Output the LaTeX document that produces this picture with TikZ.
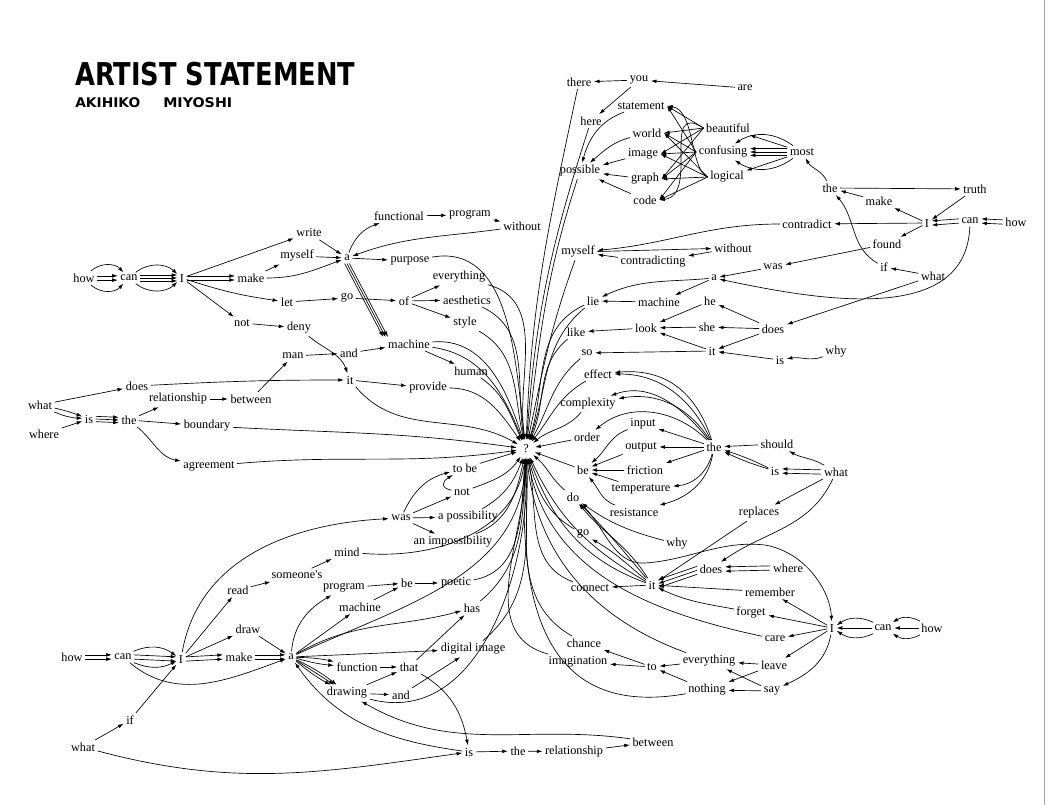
\documentclass[tikz,border=0pt]{standalone}
\usepackage{fontspec}
\usepackage{graphicx}
\setmainfont{Liberation Serif}
\newfontfamily\titlefont{DejaVu Sans}
\usetikzlibrary{arrows.meta}
\newcommand\wordnode[4]{\node[w] (#1) at (#2,-#3) {#4};}
\begin{document}
\begin{tikzpicture}[x=0.75pt,y=0.75pt,
  w/.style={inner sep=1.8pt, font=\fontsize{9.2}{10}\selectfont},
  ar/.style={line width=0.5pt, -{Latex[length=4.2pt,width=2.8pt]}},
]
\fill[white] (0,0) rectangle (1048,-805);
\useasboundingbox (0,0) rectangle (1048,-805);
\draw[black!35, line width=0.6pt] (1044,0) -- (1044,-805);

% titles
\node[anchor=south west, inner sep=0] (title) at (75,-86.7) {\resizebox{210pt}{17.5pt}{\titlefont\bfseries ARTIST STATEMENT}};
\node[anchor=south west, inner sep=0] (akihiko) at (75,-107.9) {\resizebox{48.75pt}{7.4pt}{\titlefont\bfseries AKIHIKO}};
\node[anchor=south west, inner sep=0] (miyoshi) at (163,-107.9) {\resizebox{51.75pt}{7.4pt}{\titlefont\bfseries MIYOSHI}};

% ---------- cluster A (top left)
\wordnode{howA}{84}{278}{how}
\wordnode{canA}{129}{278}{can}
\wordnode{IA}{182}{278}{I}
\wordnode{writeA}{309}{233}{write}
\wordnode{myselfA}{297}{256}{myself}
\wordnode{aA}{347}{258}{a}
\wordnode{makeA}{251}{278}{make}
\wordnode{letA}{287}{302}{let}
\wordnode{goA}{347}{298}{go}
\wordnode{notA}{242}{323}{not}
\wordnode{denyA}{299}{328}{deny}
\wordnode{manA}{293}{356}{man}
\wordnode{andA}{349}{353}{and}
\wordnode{itA}{350}{380}{it}
\wordnode{doesA}{137}{386}{does}
\wordnode{whatA}{40}{405}{what}
\wordnode{whereA}{44}{434}{where}
\wordnode{isA}{89}{419}{is}
\wordnode{theA}{129}{420}{the}
\wordnode{relA}{178}{399}{relationship}
\wordnode{betweenA}{251}{399}{between}
\wordnode{boundaryA}{207}{426}{boundary}
\wordnode{agreeA}{209}{466}{agreement}
\wordnode{functional}{399}{216}{functional}
\wordnode{programA}{470}{215}{program}
\wordnode{withoutA}{522}{226}{without}
\wordnode{purpose}{410}{261}{purpose}
\wordnode{everythingA}{459}{277}{everything}
\wordnode{ofA}{404}{301}{of}
\wordnode{aesthetics}{467}{300}{aesthetics}
\wordnode{style}{465}{323}{style}
\wordnode{machineA}{409}{344}{machine}
\wordnode{human}{471}{371}{human}
\wordnode{provide}{428}{388}{provide}
\node[w, circle, inner sep=2.2pt] (q) at (526,-449) {?};

% ---------- cluster B (top right)
\wordnode{there}{579}{82}{there}
\wordnode{you}{639}{80}{you}
\wordnode{are}{745}{88}{are}
\wordnode{here}{591}{121}{here}
\wordnode{statement}{641}{106}{statement}
\wordnode{world}{647}{133}{world}
\wordnode{image}{643}{154}{image}
\wordnode{possible}{580}{171}{possible}
\wordnode{graph}{645}{179}{graph}
\wordnode{code}{645}{200}{code}
\wordnode{beautiful}{728}{128}{beautiful}
\wordnode{confusing}{723}{152}{confusing}
\wordnode{logical}{727}{177}{logical}
\wordnode{most}{802}{152}{most}
\wordnode{theB}{830}{188}{the}
\wordnode{truth}{975}{189}{truth}
\wordnode{makeB}{879}{201}{make}
\wordnode{IB}{927}{223}{I}
\wordnode{canB}{970}{221}{can}
\wordnode{howB}{1016}{222}{how}
\wordnode{contradict}{807}{224}{contradict}
\wordnode{found}{887}{244}{found}
\wordnode{myselfB}{578}{252}{myself}
\wordnode{withoutB}{733}{248}{without}
\wordnode{contradicting}{653}{262}{contradicting}
\wordnode{wasB}{773}{267}{was}
\wordnode{ifB}{884}{267}{if}
\wordnode{whatB}{933}{276}{what}
\wordnode{aB}{714}{278}{a}
\wordnode{lie}{593}{301}{lie}
\wordnode{machineB}{659}{302}{machine}
\wordnode{heB}{710}{301}{he}
\wordnode{doesB}{773}{329}{does}
\wordnode{like}{576}{332}{like}
\wordnode{look}{646}{328}{look}
\wordnode{she}{707}{327}{she}
\wordnode{soB}{587}{353}{so}
\wordnode{itB}{712}{351}{it}
\wordnode{isB}{780}{360}{is}
\wordnode{whyB}{836}{352}{why}

% ---------- cluster C (middle right)
\wordnode{effect}{598}{374}{effect}
\wordnode{complexity}{588}{404}{complexity}
\wordnode{input}{643}{424}{input}
\wordnode{order}{587}{437}{order}
\wordnode{output}{641}{447}{output}
\wordnode{theC}{714}{447}{the}
\wordnode{should}{777}{444}{should}
\wordnode{beC}{583}{470}{be}
\wordnode{friction}{645}{470}{friction}
\wordnode{isC}{775}{471}{is}
\wordnode{whatC}{836}{472}{what}
\wordnode{temperature}{641}{489}{temperature}
\wordnode{doC}{573}{497}{do}
\wordnode{resistance}{634}{512}{resistance}
\wordnode{replaces}{759}{513}{replaces}
\wordnode{goC}{583}{534}{go}
\wordnode{whyC}{677}{544}{why}

% ---------- cluster D (bottom right)
\wordnode{doesD}{711}{569}{does}
\wordnode{where}{788}{568}{where}
\wordnode{connect}{590}{588}{connect}
\wordnode{itD}{652}{585}{it}
\wordnode{remember}{770}{592}{remember}
\wordnode{forget}{751}{612}{forget}
\wordnode{ID}{832}{628}{I}
\wordnode{canD}{883}{628}{can}
\wordnode{howD}{932}{628}{how}
\wordnode{care}{775}{639}{care}
\wordnode{chance}{584}{643}{chance}
\wordnode{imagination}{578}{662}{imagination}
\wordnode{toD}{652}{667}{to}
\wordnode{everythingD}{709}{661}{everything}
\wordnode{leave}{774}{665}{leave}
\wordnode{nothing}{707}{690}{nothing}
\wordnode{say}{772}{691}{say}

% ---------- cluster E (bottom left)
\wordnode{tobe}{465}{468}{to be}
\wordnode{notE}{462}{492}{not}
\wordnode{wasE}{401}{518}{was}
\wordnode{apos}{468}{517}{a possibility}
\wordnode{aimp}{453}{542}{an impossibility}
\wordnode{mind}{347}{552}{mind}
\wordnode{someones}{297}{575}{someone\textquotesingle s}
\wordnode{read}{238}{590}{read}
\wordnode{programE}{344}{588}{program}
\wordnode{beE}{407}{583}{be}
\wordnode{poetic}{456}{583}{poetic}
\wordnode{machineE}{360}{607}{machine}
\wordnode{has}{472}{608}{has}
\wordnode{draw}{248}{629}{draw}
\wordnode{howE}{72}{657}{how}
\wordnode{canE}{123}{657}{can}
\wordnode{IE}{181}{659}{I}
\wordnode{makeE}{239}{657}{make}
\wordnode{aE}{291}{657}{a}
\wordnode{digital}{473}{649}{digital image}
\wordnode{function}{357}{667}{function}
\wordnode{that}{409}{667}{that}
\wordnode{drawing}{347}{693}{drawing}
\wordnode{andE}{401}{695}{and}
\wordnode{ifE}{130}{720}{if}
\wordnode{whatE}{83}{747}{what}
\wordnode{isE}{469}{752}{is}
\wordnode{theE}{518}{751}{the}
\wordnode{relE}{574}{752}{relationship}
\wordnode{betweenE}{653}{742}{between}

% ================= edges A
\draw[ar] (howA) to[bend left=45] (canA);
\draw[ar] ([yshift=1.6pt]howA.east) -- ([yshift=1.6pt]canA.west);
\draw[ar] ([yshift=-1.6pt]howA.east) -- ([yshift=-1.6pt]canA.west);
\draw[ar] (howA) to[bend right=45] (canA);
\draw[ar] (canA) to[bend left=40] (IA);
\draw[ar] ([yshift=2.2pt]canA.east) -- ([yshift=2.2pt]IA.west);
\draw[ar] (canA.east) -- (IA.west);
\draw[ar] ([yshift=-2.2pt]canA.east) -- ([yshift=-2.2pt]IA.west);
\draw[ar] (canA) to[bend right=40] (IA);
\draw[ar] (IA) -- (writeA);
\draw[ar] ([yshift=1.5pt]IA.east) -- ([yshift=1.5pt]makeA.west);
\draw[ar] ([yshift=-1.5pt]IA.east) -- ([yshift=-1.5pt]makeA.west);
\draw[ar] (IA) to[bend right=5] (letA);
\draw[ar] (IA) -- (notA);
\draw[ar] (writeA) -- (aA);
\draw[ar] (myselfA) -- (aA);
\draw[ar] (makeA) -- (myselfA);
\draw[ar] (makeA) to[out=0,in=200] (aA);
\draw[ar] (aA) to[out=70,in=200] (functional);
\draw[ar] (functional) -- (programA);
\draw[ar] (programA) -- (withoutA);
\draw[ar] (withoutA) to[out=188,in=20] (aA);
\draw[ar] (aA) -- (purpose);
\draw[ar] ([xshift=-1.8pt]aA.south) -- ([xshift=-1.8pt]machineA.north west);
\draw[ar] (aA.south) -- (machineA.north west);
\draw[ar] ([xshift=1.8pt]aA.south) -- ([xshift=1.8pt]machineA.north west);
\draw[ar] (letA) -- (goA);
\draw[ar] (goA) -- (ofA);
\draw[ar] (ofA) -- (everythingA);
\draw[ar] (ofA) -- (aesthetics);
\draw[ar] (ofA) -- (style);
\draw[ar] (notA) -- (denyA);
\draw[ar] (denyA) to[out=-40,in=110] (itA);
\draw[ar] (betweenA) -- (manA);
\draw[ar] (manA) -- (andA);
\draw[ar] (andA) -- (machineA);
\draw[ar] (machineA) -- (human);
\draw[ar] (doesA) to[out=3,in=180] (itA);
\draw[ar] (itA) -- (provide);
\draw[ar] (whatA) -- (doesA);
\draw[ar] (whatA) to[bend left=4] (isA);
\draw[ar] (whatA) to[bend right=10] (isA);
\draw[ar] (whereA) -- (isA);
\draw[ar] ([yshift=2pt]isA.east) -- ([yshift=2pt]theA.west);
\draw[ar] (isA.east) -- (theA.west);
\draw[ar] ([yshift=-2pt]isA.east) -- ([yshift=-2pt]theA.west);
\draw[ar] (theA) -- (relA);
\draw[ar] (theA) -- (boundaryA);
\draw[ar] (theA) to[out=-40,in=170] (agreeA);
\draw[ar] (relA) -- (betweenA);
% A to ?
\draw[ar] (purpose) to[out=10,in=97] (q);
\draw[ar] (everythingA) to[out=-15,in=98] (q);
\draw[ar] (aesthetics) to[out=-25,in=100] (q);
\draw[ar] (style) to[out=-30,in=103] (q);
\draw[ar] (machineA) to[out=5,in=108] (q);
\draw[ar] (machineA) to[out=-8,in=112] (q);
\draw[ar] (human) to[out=-35,in=115] (q);
\draw[ar] (provide) to[out=0,in=125] (q);
\draw[ar] (itA) to[out=-50,in=150] (q);
\draw[ar] (boundaryA) to[out=-3,in=172] (q);
\draw[ar] (agreeA) to[out=5,in=188] (q);

% ================= edges B
\draw[ar] (you) -- (there);
\draw[ar] (are) -- (you);
\draw[ar] (you) -- (here);
\draw[ar] (statement) to[out=200,in=75] (possible);
\draw[ar] (world) to[out=195,in=40] (possible);
\draw[ar] (image) -- (possible);
\draw[ar] (graph) -- (possible);
\draw[ar] (code) -- (possible);
\foreach \s in {beautiful,confusing,logical}
  \foreach \t in {world,image,graph}
    \draw[ar] (\s.west) -- (\t.east);
\draw[ar] (beautiful.west) -- (statement.east);
\draw[ar] (confusing.west) -- (statement.east);
\draw[ar] (logical.west) .. controls (690,-170) and (695,-110) .. (statement.east);
\draw[ar] (beautiful.west) .. controls (660,-100) and (700,-195) .. (code.east);
\draw[ar] (confusing.west) -- (code.east);
\draw[ar] (logical.west) -- (code.east);
\draw[ar] (most) to[bend right=35] (confusing);
\draw[ar] ([yshift=2.5pt]most.west) -- ([yshift=2.5pt]confusing.east);
\draw[ar] (most.west) -- (confusing.east);
\draw[ar] ([yshift=-2.5pt]most.west) -- ([yshift=-2.5pt]confusing.east);
\draw[ar] (most) to[bend left=35] (confusing);
\draw[ar] (most) -- (beautiful);
\draw[ar] (most) -- (logical);
\draw[ar] (theB) to[out=115,in=-60] (most);
\draw[ar] (theB) -- (truth);
\draw[ar] (truth) -- (IB);
\draw[ar] (IB) -- (makeB);
\draw[ar] (makeB) -- (theB);
\draw[ar] (IB) -- (contradict);
\draw[ar] (IB) -- (found);
\draw[ar] (found) -- (wasB);
\draw[ar] (ifB) to[out=150,in=-50] (theB);
\draw[ar] (whatB) -- (ifB);
\draw[ar] (whatB) -- (doesB);
\draw[ar] ([yshift=1.6pt]howB.west) -- ([yshift=1.6pt]canB.east);
\draw[ar] ([yshift=-1.6pt]howB.west) -- ([yshift=-1.6pt]canB.east);
\draw[ar] ([yshift=1.6pt]canB.west) -- ([yshift=1.6pt]IB.east);
\draw[ar] ([yshift=-1.6pt]canB.west) -- ([yshift=-1.6pt]IB.east);
\draw[ar] (canB) to[out=-92,in=-12] (aB);
\draw[ar] (contradict) to[out=180,in=5] (myselfB);
\draw[ar] (myselfB) -- (withoutB);
\draw[ar] (withoutB) -- (contradicting);
\draw[ar] (contradicting) -- (myselfB);
\draw[ar] (wasB) -- (aB);
\draw[ar] (aB) to[out=185,in=25] (lie);
\draw[ar] (aB) -- (machineB);
\draw[ar] (machineB) -- (lie);
\draw[ar] (heB) -- (look);
\draw[ar] (she) -- (look);
\draw[ar] (itB) -- (look);
\draw[ar] (look) -- (like);
\draw[ar] (doesB) -- (heB);
\draw[ar] (doesB) -- (she);
\draw[ar] (doesB) -- (itB);
\draw[ar] (itB) -- (soB);
\draw[ar] (isB) -- (itB);
\draw[ar] (whyB) to[out=200,in=10] (isB);
% B/C to ?
\draw[ar] (there) to[out=-102,in=88] (q);
\draw[ar] (here) to[out=-108,in=86] (q);
\draw[ar] (possible) to[out=-108,in=83] (q);
\draw[ar] (myselfB) to[out=-110,in=78] (q);
\draw[ar] (lie) to[out=205,in=72] (q);
\draw[ar] (lie) to[out=220,in=70] (q);
\draw[ar] (like) to[out=220,in=66] (q);
\draw[ar] (soB) to[out=220,in=60] (q);
\draw[ar] (effect) to[out=210,in=52] (q);
\draw[ar] (complexity) to[out=230,in=40] (q);
\draw[ar] (order) -- (q);
\draw[ar] (beC) -- (q);
\draw[ar] (doC) to[out=140,in=-40] (q);

% ================= edges C
\draw[ar] (theC) to[out=115,in=0] (effect);
\draw[ar] (theC) to[out=108,in=5,looseness=1.1] (effect);
\draw[ar] (theC) to[out=122,in=10] (complexity);
\draw[ar] (theC) to[out=128,in=20] (complexity);
\draw[ar] (theC) to[out=135,in=40] (order);
\draw[ar] (theC) -- (input);
\draw[ar] (theC) -- (output);
\draw[ar] (theC) -- (friction);
\draw[ar] (theC) to[out=-105,in=5] (temperature);
\draw[ar] (theC) to[out=-100,in=15] (resistance);
\draw[ar] (input) to[out=200,in=40] (beC);
\draw[ar] (output) -- (beC);
\draw[ar] (friction) -- (beC);
\draw[ar] (temperature) -- (beC);
\draw[ar] (resistance) to[out=160,in=-50] (beC);
\draw[ar] (should) -- (theC);
\draw[ar] (isC) to[bend left=4] (theC);
\draw[ar] (isC) to[bend right=4] (theC);
\draw[ar] ([yshift=1.6pt]whatC.west) -- ([yshift=1.6pt]isC.east);
\draw[ar] ([yshift=-1.6pt]whatC.west) -- ([yshift=-1.6pt]isC.east);
\draw[ar] (whatC) to[out=150,in=-30] (should);
\draw[ar] (whatC) -- (replaces);
\draw[ar] (whatC) to[out=-115,in=35] (doesD);
\draw[ar] (replaces) -- (itD);
\draw[ar] (whyC) to[out=165,in=-35] (doC);
\draw[ar] (itD) to[out=130,in=-45] (doC);
\draw[ar] (itD) to[out=122,in=-50] (doC);
\draw[ar] (doC) .. controls (605,-525) and (612,-565) .. (645,-563) .. controls (690,-560) and (720,-540) .. (765,-545) .. controls (805,-552) and (830,-590) .. (ID);
\draw[ar] (itD) to[out=140,in=-30] (goC);
\draw[ar] (itD) -- (connect);

% ================= edges D
\draw[ar] ([yshift=1.6pt]where.west) -- ([yshift=1.6pt]doesD.east);
\draw[ar] ([yshift=-1.6pt]where.west) -- ([yshift=-1.6pt]doesD.east);
\draw[ar] ([yshift=2pt]doesD.west) -- ([yshift=4pt]itD.east);
\draw[ar] ([yshift=-1pt]doesD.west) -- ([yshift=1pt]itD.east);
\draw[ar] ([yshift=-4pt]doesD.west) -- ([yshift=-2pt]itD.east);
\draw[ar] (remember) -- (itD);
\draw[ar] (forget) to[out=170,in=-25] (itD);
\draw[ar] (ID) -- (remember);
\draw[ar] (ID) -- (forget);
\draw[ar] (ID) -- (care);
\draw[ar] (ID) -- (leave);
\draw[ar] (ID) to[out=-100,in=25] (say);
\draw[ar] (canD) to[bend right=30] (ID);
\draw[ar] (canD.west) -- (ID.east);
\draw[ar] (canD) to[bend left=30] (ID);
\draw[ar] (howD) to[bend right=30] (canD);
\draw[ar] (howD.west) -- (canD.east);
\draw[ar] (howD) to[bend left=30] (canD);
\draw[ar] (toD) -- (chance);
\draw[ar] (toD) -- (imagination);
\draw[ar] (everythingD) -- (toD);
\draw[ar] (nothing) -- (toD);
\draw[ar] (leave) -- (everythingD);
\draw[ar] (leave) -- (nothing);
\draw[ar] (say) -- (everythingD);
\draw[ar] (say) -- (nothing);
% D to ?
\draw[ar] (goC) to[out=150,in=-75] (q);
\draw[ar] (connect) to[out=160,in=-78] (q);
\draw[ar] (itD) to[out=160,in=-70] (q);
\draw[ar] (itD) to[out=150,in=-65] (q);
\draw[ar] (care) to[out=168,in=-80] (q);
\draw[ar] (everythingD) to[out=160,in=-84] (q);
\draw[ar] (chance) to[out=150,in=-87] (q);
\draw[ar] (imagination) to[out=165,in=-90] (q);
\draw[ar] (nothing) to[out=190,in=-93,looseness=1.3] (q);

% ================= edges E
\draw[ar] ([yshift=1.6pt]howE.east) -- ([yshift=1.6pt]canE.west);
\draw[ar] ([yshift=-1.6pt]howE.east) -- ([yshift=-1.6pt]canE.west);
\draw[ar] (canE) to[bend left=30] (IE);
\draw[ar] ([yshift=1.6pt]canE.east) -- ([yshift=1.6pt]IE.west);
\draw[ar] ([yshift=-1.6pt]canE.east) -- ([yshift=-1.6pt]IE.west);
\draw[ar] (canE) to[bend right=25] (IE);
\draw[ar] (canE) to[out=-40,in=200] (aE);
\draw[ar] (IE) -- (read);
\draw[ar] (IE) -- (draw);
\draw[ar] ([yshift=1.6pt]IE.east) -- ([yshift=1.6pt]makeE.west);
\draw[ar] ([yshift=-1.6pt]IE.east) -- ([yshift=-1.6pt]makeE.west);
\draw[ar] (IE) to[out=80,in=183] (wasE);
\draw[ar] (read) -- (someones);
\draw[ar] (someones) -- (mind);
\draw[ar] (draw) -- (aE);
\draw[ar] ([yshift=1.6pt]makeE.east) -- ([yshift=1.6pt]aE.west);
\draw[ar] ([yshift=-1.6pt]makeE.east) -- ([yshift=-1.6pt]aE.west);
\draw[ar] (whatE) -- (ifE);
\draw[ar] (ifE) -- (IE);
\draw[ar] (whatE) to[out=-15,in=188] (isE);
\draw[ar] (aE) to[out=85,in=210] (programE);
\draw[ar] (aE) -- (machineE);
\draw[ar] (aE) to[out=30,in=195] (has);
\draw[ar] (aE) -- (digital);
\draw[ar] (aE) to[bend left=5] (function);
\draw[ar] (aE) to[bend right=5] (function);
\draw[ar] (aE) to[bend left=6] (drawing);
\draw[ar] (aE) -- (drawing);
\draw[ar] (aE) to[bend right=6] (drawing);
\draw[ar] (programE) -- (beE);
\draw[ar] (machineE) -- (beE);
\draw[ar] (beE) -- (poetic);
\draw[ar] (function) -- (that);
\draw[ar] (drawing) -- (that);
\draw[ar] (drawing) -- (andE);
\draw[ar] (andE) -- (digital);
\draw[ar] (that) -- (has);
\draw[ar] (that) to[out=-30,in=100] (isE);
\draw[ar] (isE) to[out=172,in=-55] (aE);
\draw[ar] (isE) -- (theE);
\draw[ar] (theE) -- (relE);
\draw[ar] (relE) -- (betweenE);
\draw[ar] (betweenE) to[out=172,in=-30] (drawing);
\draw[ar] (wasE) to[out=65,in=195] (tobe);
\draw[ar] (wasE) -- (notE);
\draw[ar] (wasE) -- (apos);
\draw[ar] (wasE) -- (aimp);
\draw[ar] (notE) to[out=170,in=210,looseness=2] (tobe);
% E to ?
\draw[ar] (tobe) -- (q);
\draw[ar] (notE) to[out=20,in=-125] (q);
\draw[ar] (apos) to[out=30,in=-110] (q);
\draw[ar] (aimp) to[out=20,in=-102] (q);
\draw[ar] (mind) to[out=-5,in=-97] (q);
\draw[ar] (poetic) to[out=10,in=-95] (q);
\draw[ar] (has) to[out=40,in=-93] (q);
\draw[ar] (digital) to[out=40,in=-91] (q);
\draw[ar] (aE) to[out=25,in=-92] (q);
\draw[ar] (drawing) to[out=-15,in=-88] (q);
\end{tikzpicture}
\end{document}
